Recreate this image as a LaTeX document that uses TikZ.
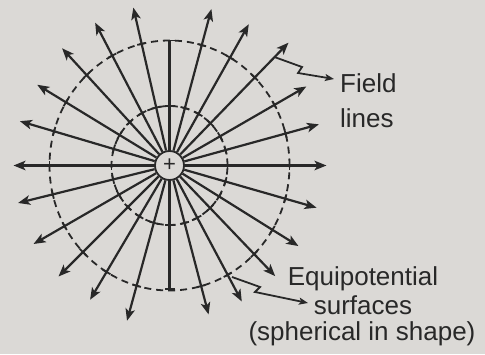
\documentclass[tikz,border=0pt]{standalone}
\usepackage{fontspec}
\setmainfont{Liberation Sans}
\usetikzlibrary{arrows.meta,calc}
\definecolor{bg}{RGB}{219,217,214}
\definecolor{ink}{RGB}{40,40,40}
\begin{document}
\begin{tikzpicture}[x=1pt,y=1pt,
  fl/.style={draw=ink,line width=2.2pt,-{Stealth[length=12pt,width=9.5pt,inset=3pt]}},
  vl/.style={draw=ink,line width=2.2pt},
  eq/.style={draw=ink,line width=1.8pt,dash pattern=on 7pt off 5pt},
  tk/.style={draw=ink,line width=1.8pt},
  lead/.style={draw=ink,line width=1.8pt,-{Stealth[length=9pt,width=7pt,inset=2pt]}},
  lbl/.style={text=ink,font=\fontsize{26}{31}\selectfont,inner sep=0pt}]
\fill[bg] (0,0) rectangle (485,354);
\useasboundingbox (0,0) rectangle (485,354);
\coordinate (c) at (169.5,188.5);
% equipotential surfaces
\draw[eq] (c) ellipse [x radius=58pt,y radius=59.5pt];
\draw[eq] (c) ellipse [x radius=120pt,y radius=125pt];
% charge
\node[circle,draw=ink,line width=1.8pt,minimum size=29pt,inner sep=0pt,fill=bg,
      text=ink,font=\fontsize{22}{22}\selectfont] (q) at (c) {+};
% field lines with arrows
\foreach \a/\l [count=\i] in {0/157,15.4/155,30/158,45.9/171,60.7/162,75/162,
    102.9/162,117.5/161,132.5/159,148.6/155,163.5/156,180/156,
    193.9/156,210/157,225/157,239.4/156,254.7/161,
    284.7/154,298/154,313.7/153,328/152,344/153} {
  \coordinate (e\i) at ($(c)+(\a:\l)$);
  \draw[fl] (q) -- (e\i);
  \foreach \rx/\ry in {58/59.5,120/125} {
    \pgfmathsetmacro\r{\rx*\ry/sqrt((\ry*cos(\a))^2+(\rx*sin(\a))^2)}
    \draw[tk] ($(c)+(\a:\r)+(\a+90:4.5)$) -- ($(c)+(\a:\r)+(\a-90:4.5)$);
  }
}
% vertical field lines (ending at the outer surface)
\coordinate (vt) at ($(c)+(90:125.5)$);
\coordinate (vb) at ($(c)+(270:124)$);
\draw[vl] (q) -- (vt);
\draw[vl] (q) -- (vb);
\foreach \a/\r in {90/59.5,90/125,270/59.5,270/123.5} {
  \draw[tk] ($(c)+(\a:\r)+(\a+90:5)$) -- ($(c)+(\a:\r)+(\a-90:5)$);
}
% labels
\node[lbl,anchor=base west] (t1) at (340,261.5) {Field};
\node[lbl,anchor=base west] (t2) at (340,226.5) {lines};
\node[lbl,anchor=base] (t3) at (363,69) {Equipotential};
\node[lbl,anchor=base] (t4) at (363,40) {surfaces};
\node[lbl,anchor=base] (t5) at (362,14) {(spherical in shape)};
% leaders
\coordinate (fs) at ($(c)+(45.9:151)$);
\coordinate (fe) at (334,275);
\draw[lead] (fs) -- (302,287) -- (298,281) -- (fe);
\coordinate (es) at (232,77);
\coordinate (ee) at (308,51);
\draw[lead] (es) -- (260,67) -- (255,62) -- (ee);
\end{tikzpicture}
\end{document}
